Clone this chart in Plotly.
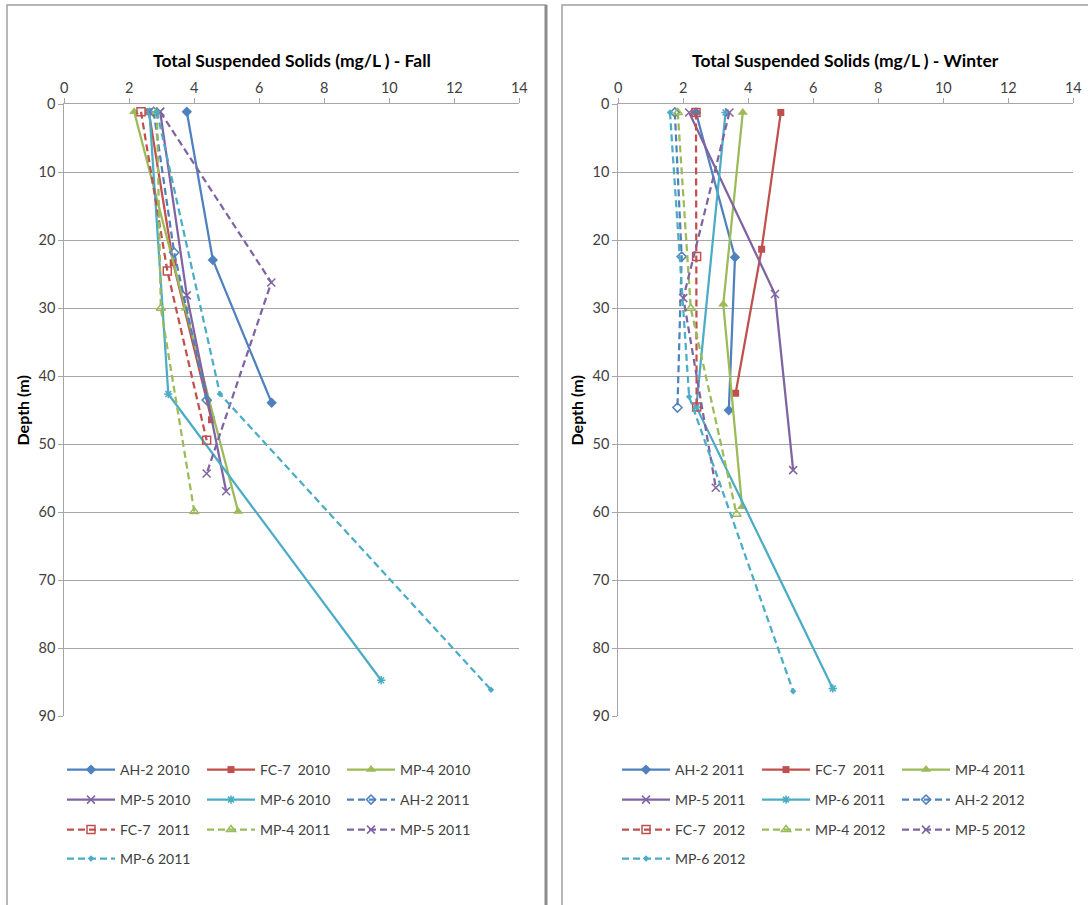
import plotly.graph_objects as go

# ---------------- data: depth (m) vs TSS (mg/L) ----------------

# Fall panel
fall_names = ["AH-2 2010", "FC-7  2010", "MP-4 2010", "MP-5 2010", "MP-6 2010",
              "AH-2 2011", "FC-7  2011", "MP-4 2011", "MP-5 2011", "MP-6 2011"]
fall_tss = [
    [3.77, 4.57, 6.38],
    [2.60, 3.35, 4.53],
    [2.15, 3.73, 5.35],
    [2.95, 3.77, 4.98],
    [2.62, 3.20, 9.75],
    [2.75, 3.38, 4.38],
    [2.36, 3.17, 4.38],
    [2.85, 2.97, 4.00],
    [2.95, 6.37, 4.38],
    [2.85, 4.79, 13.13],
]
fall_depth = [
    [1.1, 22.9, 43.9],
    [1.1, 23.3, 46.4],
    [1.1, 30.0, 59.9],
    [1.1, 28.1, 56.9],
    [1.1, 42.6, 84.7],
    [1.1, 21.8, 43.5],
    [1.1, 24.5, 49.4],
    [1.1, 30.0, 59.9],
    [1.1, 26.2, 54.3],
    [1.1, 42.6, 86.1],
]

# Winter panel
winter_names = ["AH-2 2011", "FC-7  2011", "MP-4 2011", "MP-5 2011", "MP-6 2011",
                "AH-2 2012", "FC-7  2012", "MP-4 2012", "MP-5 2012", "MP-6 2012"]
winter_tss = [
    [2.39, 3.59, 3.40],
    [5.00, 4.41, 3.61],
    [3.83, 3.23, 3.81],
    [2.18, 4.82, 5.38],
    [3.30, 2.40, 6.60],
    [1.74, 1.95, 1.82],
    [2.39, 2.41, 2.41],
    [1.83, 2.23, 3.64],
    [3.42, 2.00, 3.00],
    [1.59, 2.18, 5.38],
]
winter_depth = [
    [1.2, 22.5, 45.0],
    [1.2, 21.3, 42.5],
    [1.2, 29.4, 59.2],
    [1.2, 27.9, 53.8],
    [1.2, 44.5, 85.9],
    [1.2, 22.4, 44.6],
    [1.2, 22.4, 44.5],
    [1.2, 30.0, 60.3],
    [1.2, 28.5, 56.4],
    [1.2, 43.0, 86.3],
]

x_ticks = [0, 2, 4, 6, 8, 10, 12, 14]
y_ticks = [0, 10, 20, 30, 40, 50, 60, 70, 80, 90]

# ---------------- styling ----------------
W, H = 1088, 905
FONT = "Lato, Carlito, Calibri, sans-serif"
TXT = "#404040"
GRID = "#A6A6A6"

colors = ["#4F81BD", "#C0504D", "#9BBB59", "#8064A2", "#4BACC6"] * 2
symbols = ["diamond", "square", "triangle-up", "x-thin-open", "asterisk-open",
           "diamond-open", "square-open", "triangle-up-open", "x-thin-open", "diamond"]
sizes = [8, 7, 9, 8, 7, 7, 8, 8, 8, 5]
dashes = ["solid"] * 5 + ["7px,4px"] * 5


def px_x(p):
    return p / W


def px_y(p):
    return 1 - p / H


fig = go.Figure()


def add_panel(names, tss, depth, xa, ya, legends):
    for i, (n, xs, ds) in enumerate(zip(names, tss, depth)):
        open_sym = symbols[i].endswith("open")
        fig.add_trace(go.Scatter(
            x=xs, y=ds, name=n, mode="lines+markers",
            xaxis=xa, yaxis=ya,
            legend=legends[i // 3],
            line=dict(color=colors[i], width=2.25, dash=dashes[i]),
            marker=dict(symbol=symbols[i], size=sizes[i], color=colors[i],
                        line=dict(color=colors[i], width=1.5 if open_sym else 0)),
            hoverinfo="x+y+name",
        ))


add_panel(fall_names, fall_tss, fall_depth, "x", "y",
          ["legend", "legend2", "legend3", "legend4"])
add_panel(winter_names, winter_tss, winter_depth, "x2", "y2",
          ["legend5", "legend6", "legend7", "legend8"])

plot_top, plot_bot = 104.3, 716.3
panels = [(64.3, 519.3), (618.3, 1073.3)]

axis_common = dict(
    range=[0, 14], tickvals=x_ticks, side="top", showgrid=False,
    showline=True, linecolor=GRID, linewidth=1, ticks="outside",
    ticklen=5, tickcolor=GRID, zeroline=False,
    tickfont=dict(family=FONT, size=14.5, color=TXT),
)
yaxis_common = dict(
    range=[90, 0], tickvals=y_ticks, showgrid=True, gridcolor=GRID,
    gridwidth=1.3, showline=True, linecolor=GRID, linewidth=1,
    ticks="outside", ticklen=5, tickcolor=GRID, zeroline=False,
    tickfont=dict(family=FONT, size=14.5, color=TXT),
    title=dict(text="<b>Depth (m)</b>", font=dict(family=FONT, size=16, color="#000000"),
               standoff=4),
)

fig.update_layout(
    width=W, height=H, margin=dict(l=0, r=0, t=0, b=0, autoexpand=False),
    paper_bgcolor="white", plot_bgcolor="white",
    xaxis=dict(domain=[px_x(panels[0][0]), px_x(panels[0][1])], anchor="y", **axis_common),
    yaxis=dict(domain=[px_y(plot_bot), px_y(plot_top)], anchor="x", **yaxis_common),
    xaxis2=dict(domain=[px_x(panels[1][0]), px_x(panels[1][1])], anchor="y2", **axis_common),
    yaxis2=dict(domain=[px_y(plot_bot), px_y(plot_top)], anchor="x2", **yaxis_common),
    showlegend=True,
)

# one legend per row, three entries each
legend_rows = [770, 800, 830, 859]
legend_left = [62, 617]
for p, lx in enumerate(legend_left):
    for r, ly in enumerate(legend_rows):
        key = "legend" if (p == 0 and r == 0) else f"legend{p * 4 + r + 1}"
        fig.update_layout({key: dict(
            orientation="h", x=px_x(lx), y=px_y(ly), xanchor="left", yanchor="middle",
            entrywidth=77, entrywidthmode="pixels", itemwidth=48,
            bgcolor="rgba(0,0,0,0)", borderwidth=0,
            font=dict(family=FONT, size=14, color=TXT),
            itemclick=False, itemdoubleclick=False,
        )})

# panel titles
titles = ["<b>Total Suspended Solids (mg/L ) - Fall</b>",
          "<b>Total Suspended Solids (mg/L ) - Winter</b>"]
for (x0, x1), t in zip(panels, titles):
    fig.add_annotation(text=t, x=px_x((x0 + x1) / 2), y=px_y(60), xref="paper", yref="paper",
                       xanchor="center", yanchor="middle", showarrow=False,
                       font=dict(family=FONT, size=17.5, color="#000000"))

# chart frames
frames = [(7, 546), (562, 1092)]
for x0, x1 in frames:
    fig.add_shape(type="rect", xref="paper", yref="paper",
                  x0=px_x(x0), x1=px_x(x1), y0=-0.02, y1=px_y(5),
                  line=dict(color="#A0A0A0", width=1.5), fillcolor="rgba(0,0,0,0)")
fig.add_shape(type="line", xref="paper", yref="paper",
              x0=px_x(546), x1=px_x(546), y0=-0.02, y1=px_y(5),
              line=dict(color="#8C8C8C", width=3))

fig.write_html("out.html")
